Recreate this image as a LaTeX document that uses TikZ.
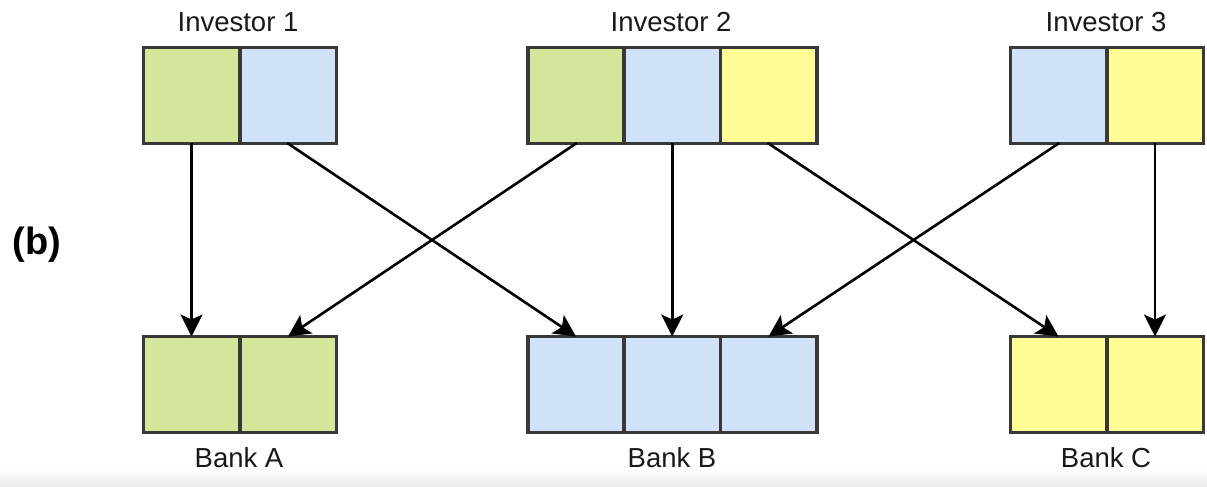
\documentclass[tikz,border=0pt]{standalone}
\usepackage{fontspec}
\setmainfont{Liberation Sans}
\usetikzlibrary{arrows.meta}
\definecolor{cgreen}{HTML}{D4E69A}
\definecolor{cblue}{HTML}{D0E2F8}
\definecolor{cyellow}{HTML}{FFFC96}
\definecolor{bordergray}{HTML}{383838}
\tikzset{
  cell/.style={draw=bordergray, line width=3.5pt, minimum width=96.5pt, minimum height=96pt, inner sep=0pt, outer sep=0pt},
  g/.style={cell, fill=cgreen},
  b/.style={cell, fill=cblue},
  yl/.style={cell, fill=cyellow},
  lbl/.style={font=\fontsize{27.5}{32}\selectfont, text=black!90, inner sep=0pt},
  arr/.style={line width=2.6pt, -{Stealth[length=22pt, width=22pt, inset=5pt]}, shorten <=-1pt}
}
\begin{document}
\begin{tikzpicture}[x=1pt, y=-1pt]
\useasboundingbox (0,0) rectangle (1207,487);
\fill[white] (0,0) rectangle (1207,487);
\shade[top color=white, bottom color=black!8] (0,468) rectangle (1207,487);
% investors
\node[g]  (i1a) at (191.5,95.5) {};
\node[b]  (i1b) at (288,95.5) {};
\node[g]  (i2a) at (576,95.5) {};
\node[b]  (i2b) at (672.2,95.5) {};
\node[yl] (i2c) at (768.5,95.5) {};
\node[b]  (i3a) at (1058.5,95.5) {};
\node[yl] (i3b) at (1155,95.5) {};
% banks
\node[g]  (ba1) at (191.5,384.5) {};
\node[g]  (ba2) at (288,384.5) {};
\node[b]  (bb1) at (576,384.5) {};
\node[b]  (bb2) at (672.2,384.5) {};
\node[b]  (bb3) at (768.5,384.5) {};
\node[yl] (bc1) at (1058.5,384.5) {};
\node[yl] (bc2) at (1155,384.5) {};
% labels
\node[lbl] (l1) at (238,22) {Investor 1};
\node[lbl] (l2) at (671,22) {Investor 2};
\node[lbl] (l3) at (1106,22) {Investor 3};
\node[lbl] (la) at (239,458) {Bank A};
\node[lbl] (lb) at (672,458) {Bank B};
\node[lbl] (lc) at (1106,458) {Bank C};
\node[font=\fontsize{38}{42}\selectfont\bfseries, inner sep=0pt] (tag) at (37,245) {(b)};
% arrows
\draw[arr] (i1a.south) -- (ba1.north);
\draw[arr] (i1b.south) -- (bb1.north);
\draw[arr] (i2a.south) -- (ba2.north);
\draw[arr] (i2b.south) -- (bb2.north);
\draw[arr] (i2c.south) -- (bc1.north);
\draw[arr] (i3a.south) -- (bb3.north);
\draw[arr] (i3b.south) -- (bc2.north);
\end{tikzpicture}
\end{document}
